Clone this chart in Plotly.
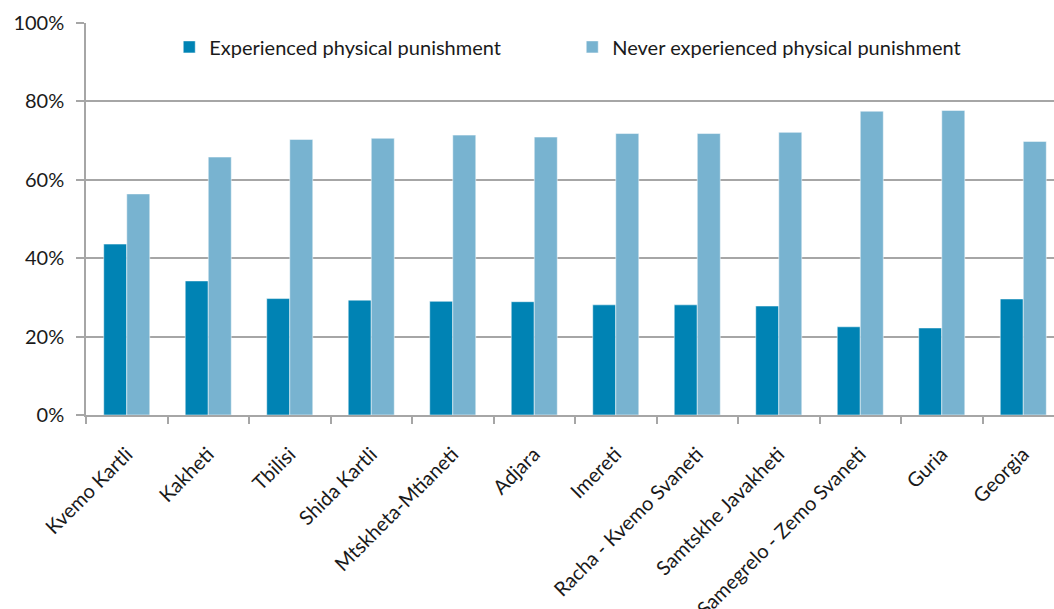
import plotly.graph_objects as go

regions = ["Kvemo Kartli", "Kakheti", "Tbilisi", "Shida Kartli", "Mtskheta-Mtianeti",
           "Adjara", "Imereti", "Racha - Kvemo Svaneti", "Samtskhe Javakheti",
           "Samegrelo - Zemo Svaneti", "Guria", "Georgia"]
experienced = [43.6, 34.2, 29.7, 29.3, 29.0, 28.9, 28.1, 28.1, 27.8, 22.5, 22.2, 29.6]
never_experienced = [56.4, 65.8, 70.3, 70.6, 71.4, 70.9, 71.8, 71.8, 72.1, 77.5, 77.7, 69.8]

font_family = "Lato, Open Sans, sans-serif"

fig = go.Figure()
fig.add_trace(go.Bar(x=regions, y=experienced, name="Experienced physical punishment",
                     marker=dict(color="#0083B4", line=dict(color="rgba(255,255,255,0.5)", width=1))))
fig.add_trace(go.Bar(x=regions, y=never_experienced, name="Never experienced physical punishment",
                     marker=dict(color="#78B3D0", line=dict(color="rgba(255,255,255,0.5)", width=1))))

fig.update_layout(
    width=1054, height=609,
    margin=dict(l=86, r=0, t=23, b=194),
    paper_bgcolor="white", plot_bgcolor="white",
    barmode="group", bargap=0.435, bargroupgap=0,
    font=dict(family=font_family, color="#1a1a1a"),
    legend=dict(orientation="h", x=0.086, xanchor="left", y=0.939, yanchor="middle",
                font=dict(size=20, color="#1a1a1a"), entrywidth=358, entrywidthmode="pixels",
                bgcolor="rgba(0,0,0,0)", itemwidth=30),
    showlegend=True,
)
fig.update_xaxes(type="category", range=[-0.5, 11.377], tickangle=-45, automargin=False,
                 showline=True, linecolor="#A6A6A6", linewidth=1.5,
                 ticks="outside", tickson="boundaries", ticklen=7, tickcolor="#A6A6A6", tickwidth=1.5,
                 ticklabelstandoff=18,
                 tickfont=dict(size=20, color="#1a1a1a"), showgrid=False)
fig.update_yaxes(range=[0, 100], dtick=20, ticksuffix="%", automargin=False,
                 showline=True, linecolor="#A6A6A6", linewidth=1.5,
                 ticks="outside", ticklen=8, tickcolor="#A6A6A6", tickwidth=1.5,
                 ticklabelstandoff=8,
                 showgrid=True, gridcolor="#A6A6A6", gridwidth=1.5,
                 tickfont=dict(size=20, color="#1a1a1a"), zeroline=False)

fig.write_html("out.html")
